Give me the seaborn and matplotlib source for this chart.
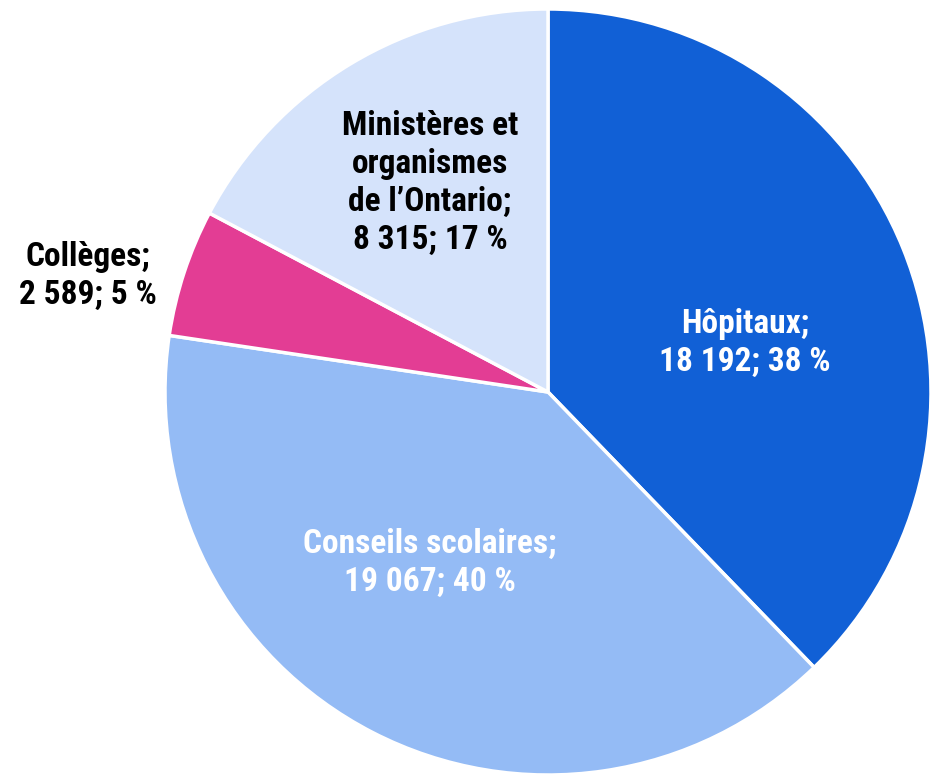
import matplotlib
matplotlib.use("Agg")
import matplotlib.pyplot as plt
from matplotlib import font_manager
import seaborn as sns

labels = ["Hôpitaux", "Conseils scolaires", "Collèges", "Ministères et\norganismes\nde l’Ontario"]
values = [18192, 19067, 2589, 8315]
percents = [38, 40, 5, 17]
colors = ["#1160D6", "#94BBF5", "#E33D94", "#D5E3FB"]
text_colors = ["white", "white", "black", "black"]

sns.set_theme(style="white")
names = {f.name for f in font_manager.fontManager.ttflist}
family = "DejaVu Sans"
for cand in ["Liberation Sans Narrow", "Roboto Condensed", "Arial Narrow", "Roboto"]:
    if cand in names:
        family = cand
        break
plt.rcParams["font.family"] = [family, "DejaVu Sans"]

fig = plt.figure(figsize=(9.3, 7.74), dpi=100)
r_px = 383
ax = fig.add_axes([(548 - r_px) / 930, (382 - r_px) / 774, 2 * r_px / 930, 2 * r_px / 774])
wedges, _ = ax.pie(values, colors=colors, startangle=90, counterclock=False,
                   radius=1, wedgeprops=dict(edgecolor="white", linewidth=2.5))
ax.set_xlim(-1, 1)
ax.set_ylim(-1, 1)
ax.set_aspect("equal")
ax.axis("off")

# label positions (data coords), tuned to the reference
label_pos = [(0.514, 0.128), (-0.308, -0.446), (-1.202, 0.303), (-0.308, 0.546)]

def fmt(v):
    return f"{v:,}".replace(",", " ")

for lab, v, p, tc, pos in zip(labels, values, percents, text_colors, label_pos):
    txt = f"{lab};\n{fmt(v)}; {p} %"
    ax.text(pos[0], pos[1], txt, ha="center", va="center", color=tc,
            fontsize=24, fontweight="bold", linespacing=1.25, clip_on=False)

fig.savefig("out.png", dpi=100)
